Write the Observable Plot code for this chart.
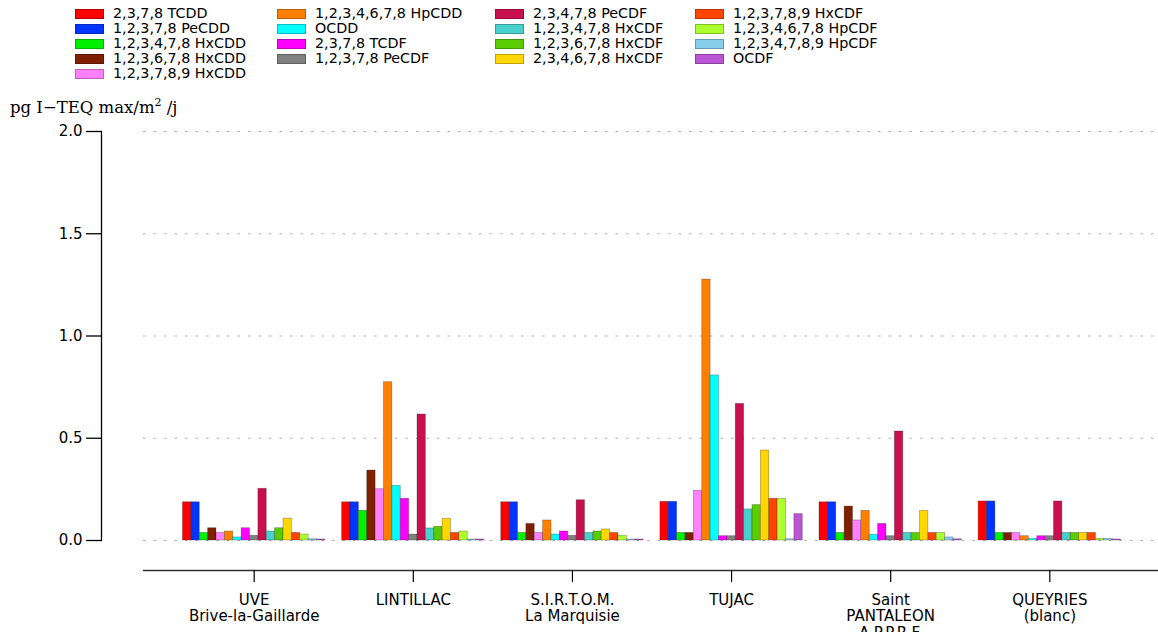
<!DOCTYPE html>
<html>
<head>
<meta charset="utf-8">
<script src="https://cdn.jsdelivr.net/npm/d3@7"></script>
<script src="https://cdn.jsdelivr.net/npm/@observablehq/plot@0.6"></script>
<style>
  html, body { margin: 0; padding: 0; background: #fff; }
  #root { position: relative; width: 1158px; height: 632px; overflow: hidden; font-family: "DejaVu Sans", sans-serif; }
  #legend { position: absolute; left: 75px; top: 6px; }
  .item { position: absolute; display: flex; align-items: center; height: 15px; white-space: nowrap; font-size: 14.3px; line-height: 15px; color: #000; }
  .sw { width: 29px; height: 10px; margin-right: 9px; box-sizing: border-box; border: 1px solid rgba(0,0,0,0.25); }
  #ylabel { position: absolute; left: 10px; top: 96px; font-family: "DejaVu Serif", serif; font-size: 16.5px; white-space: nowrap; }
  #chart { position: absolute; left: 0; top: 115px; }
</style>
</head>
<body>
<div id="root">
  <div id="legend"></div>
  <div id="ylabel">pg I−TEQ max/m<sup style="font-size:11px">2</sup> /j</div>
  <div id="chart"></div>
</div>
<script>
const groups = [
  "UVE\nBrive-la-Gaillarde",
  "LINTILLAC",
  "S.I.R.T.O.M.\nLa Marquisie",
  "TUJAC",
  "Saint\nPANTALEON\nA.P.P.R.F.",
  "QUEYRIES\n(blanc)"
];
const series = [
  "2,3,7,8 TCDD", "1,2,3,7,8 PeCDD", "1,2,3,4,7,8 HxCDD", "1,2,3,6,7,8 HxCDD",
  "1,2,3,7,8,9 HxCDD", "1,2,3,4,6,7,8 HpCDD", "OCDD", "2,3,7,8 TCDF", "1,2,3,7,8 PeCDF",
  "2,3,4,7,8 PeCDF", "1,2,3,4,7,8 HxCDF", "1,2,3,6,7,8 HxCDF", "2,3,4,6,7,8 HxCDF",
  "1,2,3,7,8,9 HxCDF", "1,2,3,4,6,7,8 HpCDF", "1,2,3,4,7,8,9 HpCDF", "OCDF"
];
const colors = [
  "#ff0000", "#0035ff", "#00f000", "#7f2000", "#ff80ff", "#ff8000", "#00ffff", "#ff00ff", "#808080",
  "#c8104f", "#48d1cc", "#5acc00", "#ffd700", "#ff4500", "#adff2f", "#87ceeb", "#ba55d3"
];
// values per group, in series order
const uve       = [0.187, 0.187, 0.037, 0.060, 0.037, 0.044, 0.015, 0.060, 0.023, 0.253, 0.044, 0.060, 0.107, 0.037, 0.029, 0.006, 0.005];
const lintillac = [0.187, 0.187, 0.145, 0.342, 0.251, 0.774, 0.267, 0.204, 0.029, 0.616, 0.059, 0.067, 0.106, 0.037, 0.044, 0.005, 0.005];
const sirtom    = [0.187, 0.187, 0.037, 0.081, 0.037, 0.098, 0.029, 0.044, 0.023, 0.197, 0.037, 0.044, 0.054, 0.037, 0.023, 0.005, 0.005];
const tujac     = [0.189, 0.189, 0.037, 0.037, 0.243, 1.276, 0.807, 0.021, 0.021, 0.668, 0.152, 0.173, 0.440, 0.204, 0.204, 0.006, 0.129];
const pantaleon = [0.187, 0.187, 0.037, 0.166, 0.098, 0.145, 0.028, 0.081, 0.021, 0.533, 0.037, 0.037, 0.145, 0.037, 0.037, 0.015, 0.006];
const queyries  = [0.191, 0.191, 0.037, 0.037, 0.037, 0.021, 0.008, 0.021, 0.021, 0.191, 0.037, 0.037, 0.037, 0.037, 0.008, 0.008, 0.005];
const values = [uve, lintillac, sirtom, tujac, pantaleon, queyries];
const yTicks = [0, 0.5, 1.0, 1.5, 2.0];
const yMin = -0.1467;

// composite band keys: group|series, with two empty slots between groups
const key = (gi, si) => gi + "|" + si;
const xDomain = [];
groups.forEach((g, gi) => {
  if (gi > 0) xDomain.push("gap" + gi + "a", "gap" + gi + "b");
  series.forEach((s, si) => xDomain.push(key(gi, si)));
});
const centerKeys = groups.map((g, gi) => key(gi, 8));
const rows = groups.flatMap((g, gi) => series.map((s, si) => ({k: key(gi, si), group: g, series: s, value: values[gi][si]})));

// legend (matplotlib-style 4 columns: 5,4,4,4)
const colX = [0, 202, 420, 620];
const legend = document.getElementById("legend");
series.forEach((s, i) => {
  const col = i < 5 ? 0 : 1 + Math.floor((i - 5) / 4);
  const row = i < 5 ? i : (i - 5) % 4;
  const el = document.createElement("div");
  el.className = "item";
  el.style.left = colX[col] + "px";
  el.style.top = (row * 15) + "px";
  const sw = document.createElement("div");
  sw.className = "sw";
  sw.style.background = colors[i];
  el.appendChild(sw);
  el.appendChild(document.createTextNode(s));
  legend.appendChild(el);
});

const chart = Plot.plot({
  width: 1158,
  height: 517,
  marginLeft: 101,
  marginRight: 0,
  marginTop: 16,
  marginBottom: 62,
  style: {fontFamily: "DejaVu Sans, sans-serif", fontSize: "15px", color: "#000", background: "transparent"},
  x: {domain: xDomain, paddingInner: 0, paddingOuter: 0, insetLeft: 81.5, insetRight: 37.5, axis: null},
  y: {domain: [yMin, 2], axis: null},
  color: {domain: series, range: colors},
  marks: [
    Plot.ruleY(yTicks, {insetLeft: 42, stroke: "#b0b0b0", strokeWidth: 1.2, strokeDasharray: "2.5,8"}),
    Plot.barY(rows, {x: "k", y: "value", fill: "series", stroke: "#000", strokeOpacity: 0.3, strokeWidth: 0.8}),
    Plot.ruleY([yMin], {insetLeft: 42, stroke: "#333", strokeWidth: 1.5}),
    Plot.axisY(yTicks, {anchor: "left", tickSize: 15, tickPadding: 4, tickFormat: d3.format(".1f"), fontSize: 15, label: null, strokeWidth: 1.3}),
    Plot.frame({anchor: "left", insetBottom: 30, stroke: "#000", strokeWidth: 1.3}),
    Plot.axisX(centerKeys, {anchor: "bottom", tickSize: 12, tickPadding: 10, fontSize: 15, label: null, lineHeight: 1.13, strokeWidth: 1.2,
      tickFormat: k => groups[+k.split("|")[0]]})
  ]
});
document.getElementById("chart").appendChild(chart);
</script>
</body>
</html>
